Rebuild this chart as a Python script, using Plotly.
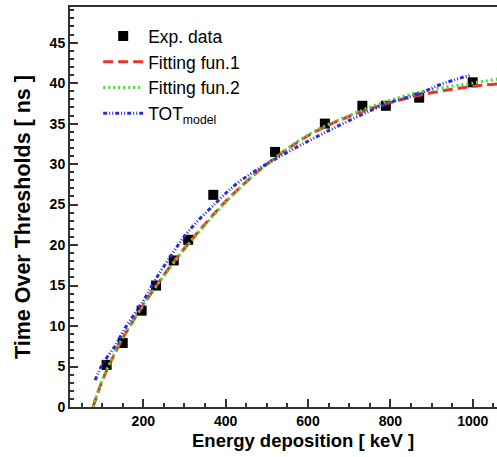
import plotly.graph_objects as go

exp_x = [111, 150, 196, 231, 274, 309, 370, 520, 641, 732, 789, 870, 1000]
exp_y = [5.2, 7.9, 11.9, 15.0, 18.1, 20.65, 26.2, 31.5, 35.0, 37.2, 37.2, 38.2, 40.1]

# Fitting function 1 (red dashed)
fit1_x = [78, 100, 125, 150, 200, 250, 300, 350, 400, 450, 500, 600, 700, 800, 900, 1000, 1060]
fit1_y = [0, 3.2, 6.0, 8.5, 12.6, 16.3, 19.6, 22.6, 25.4, 27.8, 30.0, 33.5, 35.9, 37.6, 38.8, 39.6, 39.9]

# Fitting function 2 (green dotted)
fit2_x = [78, 100, 125, 150, 200, 250, 300, 350, 400, 450, 500, 600, 700, 800, 900, 1000, 1060]
fit2_y = [0, 3.3, 6.1, 8.6, 12.6, 16.2, 19.5, 22.5, 25.3, 27.8, 30.0, 33.6, 36.0, 37.9, 39.2, 40.0, 40.5]

# TOT model (blue dash-dot-dot)
tot_x = [83, 100, 131, 155, 200, 228, 270, 308, 378, 435, 520, 649, 789, 870, 920, 995]
tot_y = [3.3, 5.2, 7.5, 9.7, 13.1, 15.6, 18.9, 21.6, 25.3, 27.9, 30.6, 34.1, 37.4, 38.7, 39.8, 41.0]

x_ticks = [200, 400, 600, 800, 1000]
y_ticks = [0, 5, 10, 15, 20, 25, 30, 35, 40, 45]

FONT = "Liberation Sans"

fig = go.Figure()
fig.add_trace(go.Scatter(x=exp_x, y=exp_y, mode="markers", name="Exp. data",
                         marker=dict(symbol="square", size=10, color="black")))
fig.add_trace(go.Scatter(x=fit1_x, y=fit1_y, mode="lines", name="Fitting fun.1",
                         line=dict(color="#e8352b", width=3, dash="10px,5px", shape="spline")))
fig.add_trace(go.Scatter(x=fit2_x, y=fit2_y, mode="lines", name="Fitting fun.2",
                         line=dict(color="#44dd33", width=3, dash="2px,3px", shape="spline")))
fig.add_trace(go.Scatter(x=tot_x, y=tot_y, mode="lines", name="TOT<sub>model</sub>",
                         line=dict(color="#2b2bdd", width=3, dash="4px,2px,1px,2px,1px,2px", shape="spline")))

fig.update_layout(
    width=497, height=457,
    margin=dict(l=70, r=0, t=7, b=50),
    plot_bgcolor="white", paper_bgcolor="white",
    font=dict(family=FONT, color="black"),
    showlegend=True,
    legend=dict(x=0.066, y=0.972, xanchor="left", yanchor="top",
                bgcolor="rgba(0,0,0,0)", font=dict(size=17.5, family=FONT),
                tracegroupgap=0, itemwidth=40),
    xaxis=dict(
        range=[22, 1059], tickmode="array", tickvals=x_ticks,
        ticks="inside", ticklen=8, tickwidth=1.5, tickcolor="#333",
        minor=dict(ticks="inside", ticklen=4, dtick=50, tick0=0, tickcolor="#333"),
        showline=True, linecolor="#333", linewidth=2, mirror=True,
        showgrid=False, zeroline=False,
        tickfont=dict(size=14, family=FONT, weight="bold"),
    ),
    yaxis=dict(
        range=[0, 49.4], tickmode="array", tickvals=y_ticks,
        ticks="inside", ticklen=8, tickwidth=1.5, tickcolor="#333",
        minor=dict(ticks="inside", ticklen=4, dtick=1, tick0=0, tickcolor="#333"),
        showline=True, linecolor="#333", linewidth=2, mirror=False,
        showgrid=False, zeroline=False,
        tickfont=dict(size=14, family=FONT, weight="bold"),
    ),
    annotations=[
        dict(text="Energy deposition [ keV ]", xref="paper", yref="paper",
             x=0.545, y=-0.0825, xanchor="center", yanchor="middle", showarrow=False,
             font=dict(size=18.5, family=FONT, weight="bold")),
        dict(text="Time Over Thresholds [ ns ]", xref="paper", yref="paper",
             x=-0.11, y=0.475, xanchor="center", yanchor="middle", showarrow=False,
             textangle=-90, font=dict(size=21.5, family=FONT, weight="bold")),
    ],
)

fig.write_html("out.html", post_script="document.body.style.margin='0px';",
               config={"displayModeBar": False})
